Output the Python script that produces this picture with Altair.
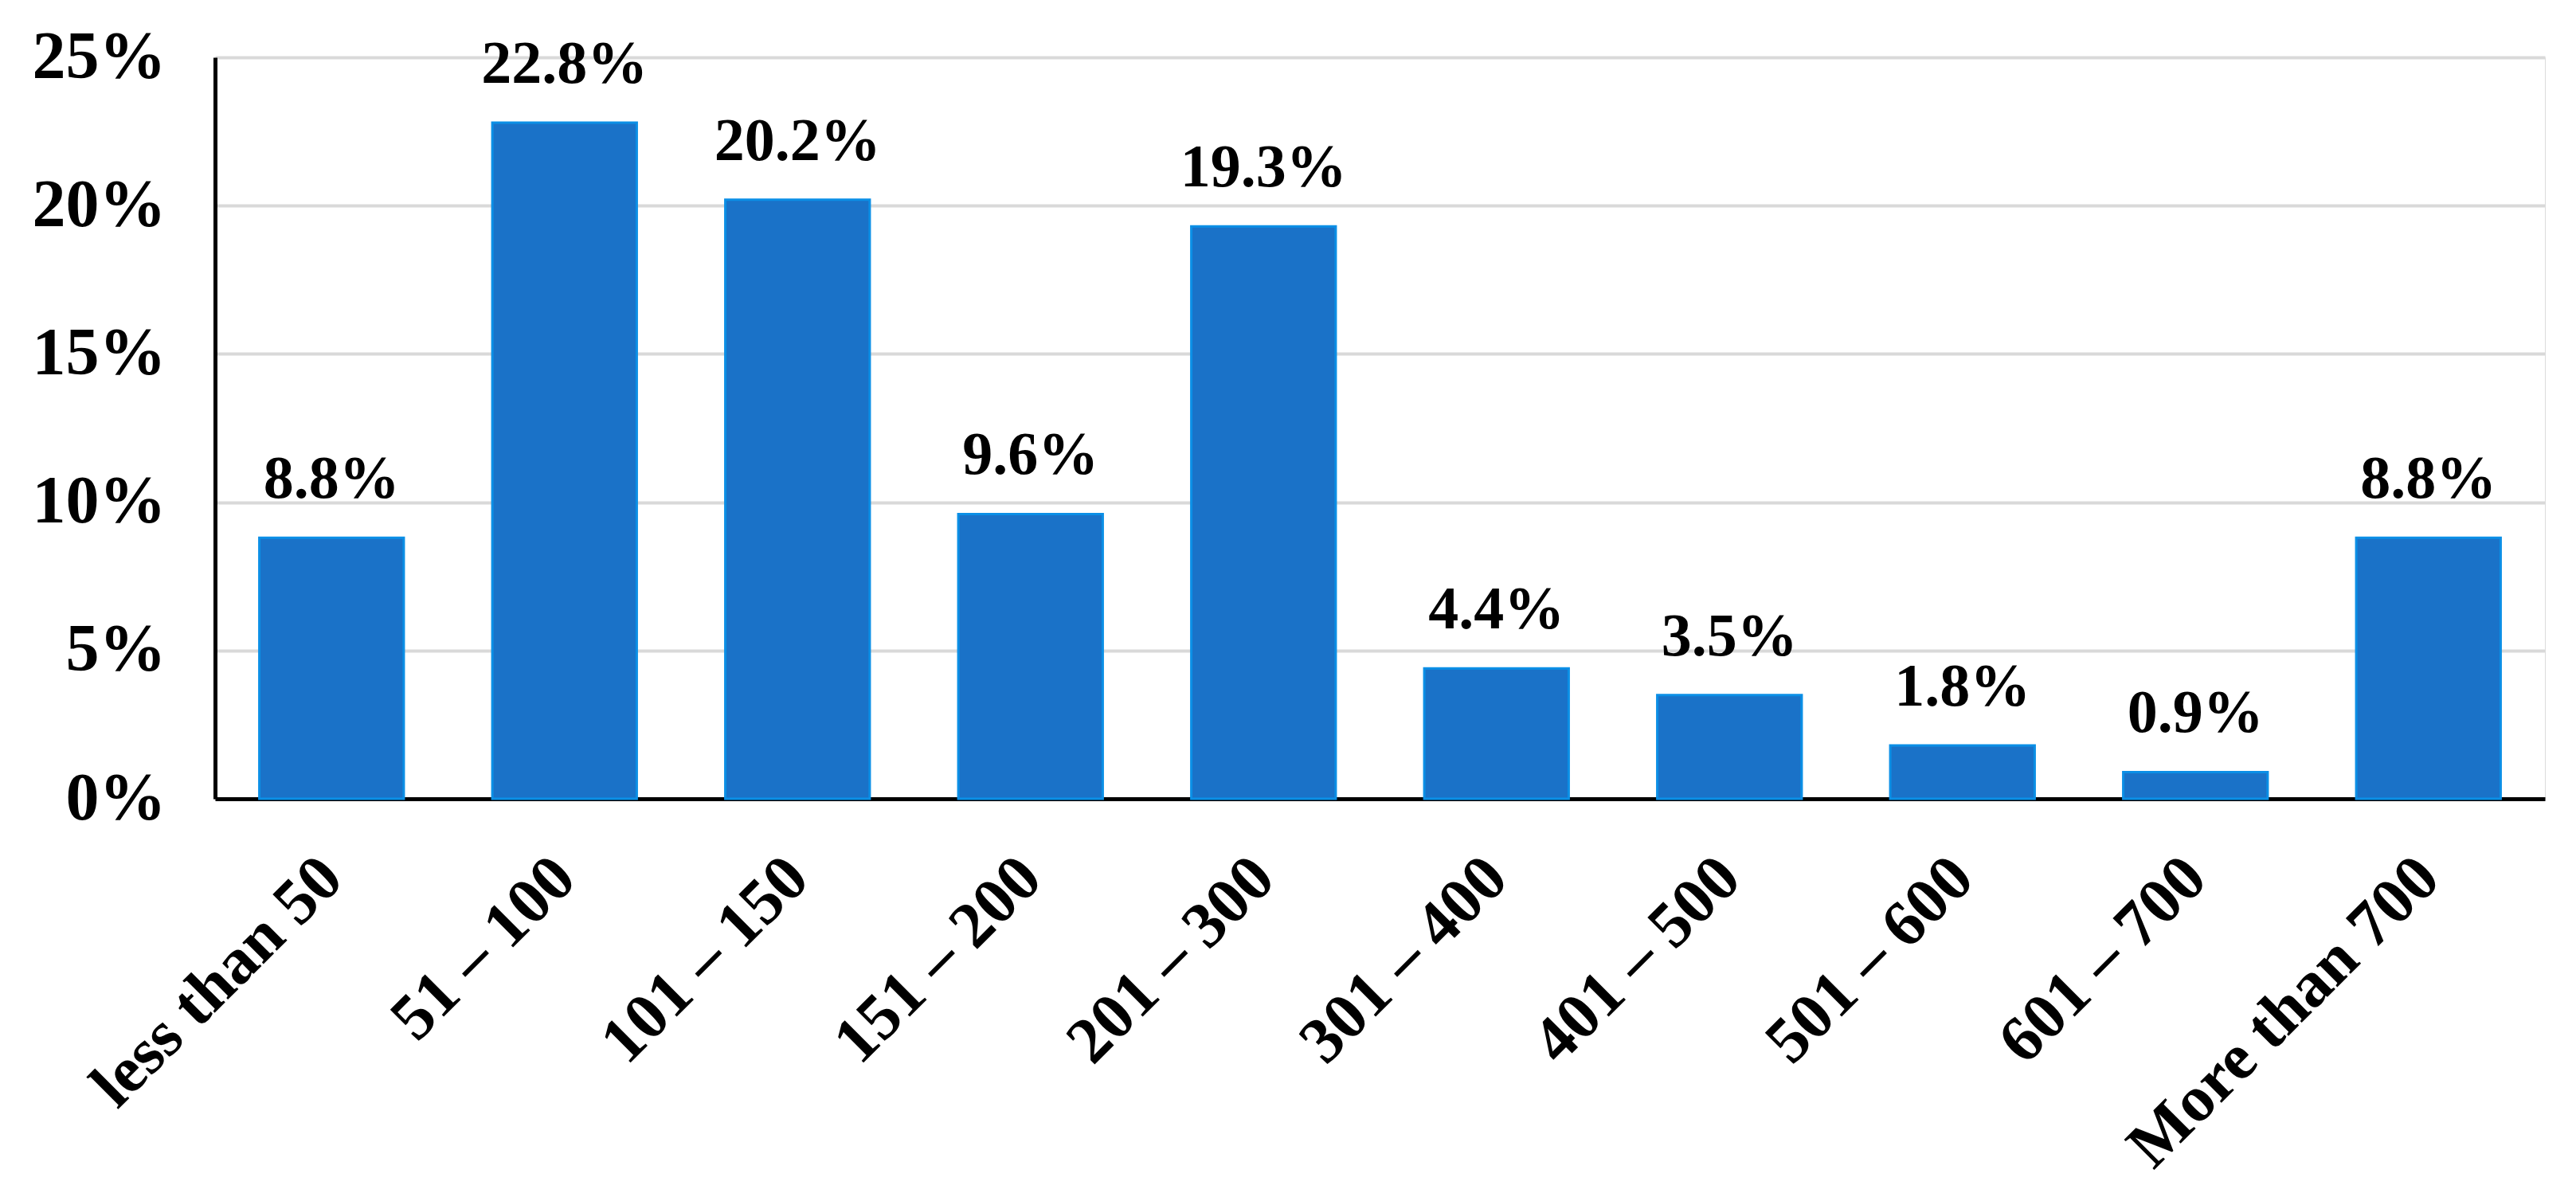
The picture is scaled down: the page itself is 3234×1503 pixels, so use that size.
import altair as alt
import pandas as pd

categories = ["less than 50", "51 – 100", "101 – 150", "151 – 200", "201 – 300",
              "301 – 400", "401 – 500", "501 – 600", "601 – 700", "More than 700"]
values = [8.8, 22.8, 20.2, 9.6, 19.3, 4.4, 3.5, 1.8, 0.9, 8.8]
y_ticks = [0, 5, 10, 15, 20, 25]

df = pd.DataFrame({"cat": categories, "val": values})
df["lbl"] = [f"{v:.1f}%" for v in values]

FONT = "Liberation Serif"

x = alt.X("cat:N", sort=categories, title=None,
          scale=alt.Scale(paddingInner=0.38, paddingOuter=0.19),
          axis=alt.Axis(labelAngle=-45, labelAlign="right", labelBaseline="middle",
                        labelFont=FONT, labelFontSize=82, labelFontWeight="bold",
                        labelColor="black", labelPadding=86, labelLimit=2000, ticks=False,
                        domainColor="black", domainWidth=5, grid=False))
y = alt.Y("val:Q", title=None,
          scale=alt.Scale(domain=[0, 25], nice=False),
          axis=alt.Axis(values=y_ticks, labelExpr="datum.value + '%'",
                        labelFont=FONT, labelFontSize=84, labelFontWeight="bold",
                        labelColor="black", labelPadding=62, ticks=False,
                        domainColor="black", domainWidth=5,
                        grid=True, gridColor="#d9d9d9", gridWidth=4))

bars = alt.Chart(df).mark_bar(color="#1A72C8", stroke="#0B8FE6", strokeWidth=3).encode(x=x, y=y)
text = alt.Chart(df).mark_text(font=FONT, fontSize=76, fontWeight="bold", color="black",
                               baseline="alphabetic", dy=-50).encode(
    x=alt.X("cat:N", sort=categories), y="val:Q", text="lbl:N")

chart = (bars + text).properties(
    width=2925, height=931,
    autosize=alt.AutoSizeParams(type="none"),
    padding={"left": 262, "top": 64, "right": 20, "bottom": 491},
).configure_view(stroke=None).configure(background="white")

chart.save("out.html", embed_options={"renderer": "svg", "actions": False})
